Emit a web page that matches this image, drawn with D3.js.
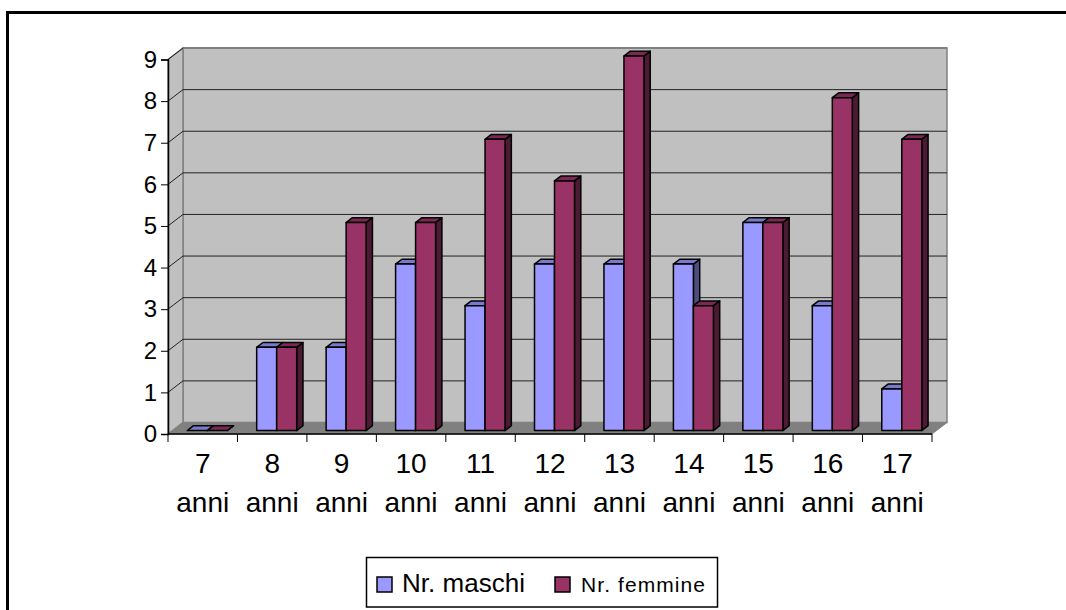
<!DOCTYPE html>
<html>
<head>
<meta charset="utf-8">
<script src="https://cdn.jsdelivr.net/npm/d3@7"></script>
<style>
  body { margin: 0; background: #fff; }
  svg { display: block; font-family: "Liberation Sans", Arial, sans-serif; }
</style>
</head>
<body>
<div id="chart-area"></div>
<script>
// data
const categories = ["7", "8", "9", "10", "11", "12", "13", "14", "15", "16", "17"];
const maschi = [0, 2, 2, 4, 3, 4, 4, 4, 5, 3, 1];
const femmine = [0, 2, 5, 5, 7, 6, 9, 3, 5, 8, 7];
const yTicks = [0, 1, 2, 3, 4, 5, 6, 7, 8, 9];
const seriesNames = ["Nr. maschi", "Nr. femmine"];

const W = 1066, H = 610;
// depth of the 3d box (back wall offset)
const dx = 15, dy = -11.5;
// bar sits between these fractions of the depth
const bFront = 0.3, bBack = 0.72;

const colors = [
  { front: "#9999ff", top: "#7a7acc", side: "#4d4d80" },
  { front: "#993366", top: "#7a2952", side: "#4d1a33" }
];

const svg = d3.select("#chart-area").append("svg")
  .attr("width", W).attr("height", H);

// outer border
svg.append("rect")
  .attr("x", 7.5).attr("y", 12.5)
  .attr("width", 1070).attr("height", 620)
  .attr("fill", "none").attr("stroke", "#000").attr("stroke-width", 3);

const x0 = d3.scaleBand().domain(categories).range([168, 932]);
const x1 = d3.scaleBand().domain([0, 1]).range([0, 40]);
const y = d3.scaleLinear().domain([0, 9]).range([434, 59.5]);

const g = svg.append("g");
const pts = (a) => a.map(p => p.join(",")).join(" ");

// back wall
g.append("rect")
  .attr("x", 168 + dx).attr("y", y(9) + dy)
  .attr("width", 932 - 168).attr("height", y(0) - y(9))
  .attr("fill", "#c0c0c0").attr("stroke", "#808080").attr("stroke-width", 1.5);

// left wall
g.append("polygon")
  .attr("points", pts([[168, y(0)], [168, y(9)], [168 + dx, y(9) + dy], [168 + dx, y(0) + dy]]))
  .attr("fill", "#c0c0c0").attr("stroke", "#808080").attr("stroke-width", 1.5);

// gridlines on back wall and left wall
yTicks.filter(t => t > 0 && t < 9).forEach(t => {
  g.append("line")
    .attr("x1", 168 + dx).attr("x2", 932 + dx)
    .attr("y1", y(t) + dy).attr("y2", y(t) + dy)
    .attr("stroke", "#222").attr("stroke-width", 1);
});
yTicks.filter(t => t > 0).forEach(t => {
  g.append("line")
    .attr("x1", 168).attr("x2", 168 + dx)
    .attr("y1", y(t)).attr("y2", y(t) + dy)
    .attr("stroke", "#222").attr("stroke-width", 1);
});
g.append("line")
  .attr("x1", 168 + dx).attr("x2", 932 + dx)
  .attr("y1", y(9) + dy).attr("y2", y(9) + dy)
  .attr("stroke", "#808080").attr("stroke-width", 2);

// floor
g.append("polygon")
  .attr("points", pts([[168, y(0)], [932, y(0)], [932 + dx, y(0) + dy], [168 + dx, y(0) + dy]]))
  .attr("fill", "#808080").attr("stroke", "#808080").attr("stroke-width", 1);

// bars
const bars = [];
categories.forEach((c, i) => {
  [maschi[i], femmine[i]].forEach((v, s) => bars.push({ c, s, v }));
});

const fx = dx * bFront, fy = dy * bFront;
const bx = dx * (bBack - bFront), by = dy * (bBack - bFront);
const bw = x1.bandwidth();

const bar = g.selectAll(".bar").data(bars).join("g").attr("class", "bar");
bar.each(function (d) {
  const sel = d3.select(this);
  const left = x0(d.c) + (x0.bandwidth() - 40) / 2 + x1(d.s) + fx;
  const right = left + bw;
  const top = y(d.v) + fy;
  const bottom = y(0) + fy;
  const col = colors[d.s];
  const style = (p) => p.attr("stroke", "#000").attr("stroke-width", 1.5).attr("stroke-linejoin", "round");
  // side
  sel.append("polygon")
    .attr("points", pts([[right, bottom], [right, top], [right + bx, top + by], [right + bx, bottom + by]]))
    .attr("fill", col.side).call(style);
  // top
  sel.append("polygon")
    .attr("points", pts([[left, top], [right, top], [right + bx, top + by], [left + bx, top + by]]))
    .attr("fill", col.top).call(style);
  // front
  if (d.v > 0) {
    sel.append("rect")
      .attr("x", left).attr("y", top)
      .attr("width", bw).attr("height", bottom - top)
      .attr("fill", col.front).call(style);
  }
});

// axes
const yAxis = d3.axisLeft(y).tickValues(yTicks).tickSize(7).tickPadding(4);
const yAxisGroup = svg.append("g").attr("class", "y-axis")
  .attr("transform", "translate(168,0)")
  .call(yAxis);
yAxisGroup.select(".domain").attr("stroke", "#000").attr("stroke-width", 1.5);
yAxisGroup.selectAll(".tick line").attr("stroke", "#000");
yAxisGroup.selectAll(".tick text")
  .attr("fill", "#000").attr("font-size", 24)
  .attr("font-family", "Liberation Sans, Arial, sans-serif");

const xAxisGroup = svg.append("g").attr("class", "x-axis");
xAxisGroup.append("line")
  .attr("x1", 168).attr("x2", 932).attr("y1", y(0)).attr("y2", y(0))
  .attr("stroke", "#000").attr("stroke-width", 1.5);
xAxisGroup.selectAll(".xtick")
  .data(categories.map(c => x0(c)).concat([932]))
  .join("line").attr("class", "xtick")
  .attr("x1", d => d).attr("x2", d => d)
  .attr("y1", y(0)).attr("y2", y(0) + 8)
  .attr("stroke", "#000");
const xl = xAxisGroup.selectAll(".xlabel").data(categories).join("text")
  .attr("class", "xlabel")
  .attr("text-anchor", "middle")
  .attr("font-size", 28);
xl.append("tspan")
  .attr("x", d => x0(d) + x0.bandwidth() / 2).attr("y", 473)
  .text(d => d);
xl.append("tspan")
  .attr("x", d => x0(d) + x0.bandwidth() / 2).attr("y", 512)
  .text("anni");

// legend
const legend = svg.append("g").attr("class", "legend");
legend.append("rect")
  .attr("x", 366.5).attr("y", 557.5).attr("width", 351).attr("height", 49.5)
  .attr("fill", "#fff").attr("stroke", "#000").attr("stroke-width", 1.5);
const legendItems = [
  { sx: 377, tx: 402, size: 26, len: 123 },
  { sx: 555, tx: 581, size: 21, len: 124 }
];
legendItems.forEach((it, i) => {
  legend.append("rect")
    .attr("x", it.sx).attr("y", 577).attr("width", 15).attr("height", 15)
    .attr("fill", colors[i].front).attr("stroke", "#000").attr("stroke-width", 1.5);
  legend.append("text")
    .attr("x", it.tx).attr("y", 592)
    .attr("font-size", it.size)
    .attr("textLength", it.len).attr("lengthAdjust", "spacing")
    .text(seriesNames[i]);
});
</script>
</body>
</html>
